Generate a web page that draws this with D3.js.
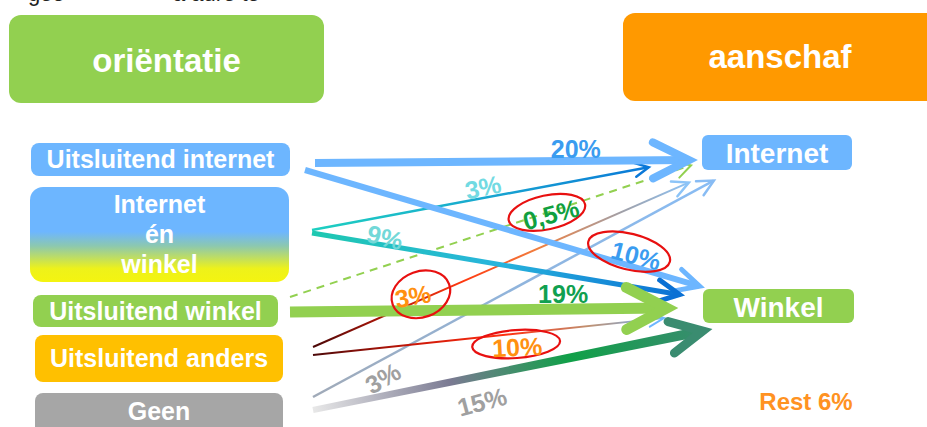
<!DOCTYPE html>
<html><head><meta charset="utf-8">
<script src="https://cdn.jsdelivr.net/npm/d3@7"></script>
<style>
html,body{margin:0;padding:0;background:#fff;}
svg{display:block;font-family:"Liberation Sans",Arial,sans-serif;}
</style>
</head><body>
<svg id="chart" width="927" height="427"></svg>
<script>
// ---------------- DATA ----------------
const headers = ["oriëntatie", "aanschaf"];
const sources = ["Uitsluitend internet", "Internet én winkel", "Uitsluitend winkel", "Uitsluitend anders", "Geen"];
const sourceLines = [["Uitsluitend internet"], ["Internet", "én", "winkel"], ["Uitsluitend winkel"], ["Uitsluitend anders"], ["Geen"]];
const targets = ["Internet", "Winkel"];
const flowFrom = ["Uitsluitend internet", "Uitsluitend internet", "Internet én winkel", "Internet én winkel", "Uitsluitend winkel",
                  "Uitsluitend winkel", "Uitsluitend anders", "Uitsluitend anders", "Geen", "Geen"];
const flowTo   = ["Internet", "Winkel", "Internet", "Winkel", "Internet", "Winkel", "Internet", "Winkel", "Internet", "Winkel"];
const flowValues = [20, 10, 3, 9, 0.5, 19, 3, 10, 3, 15];
const circled    = [false, true, false, false, true, false, true, true, false, false];
const restLabel = "Rest";
const restValue = 6;
const topTextParts = ["geo", "a aure  te"];

// ---------------- LAYOUT / STYLE ----------------
const svg = d3.select("#chart");
const defs = svg.append("defs");

const srcLeft   = d3.scaleOrdinal(sources, [31, 30, 33, 35, 35]);
const srcRight  = d3.scaleOrdinal(sources, [290, 289, 278, 283, 283]);
const srcTop    = d3.scaleOrdinal(sources, [143, 187, 295, 335, 393]);
const srcBottom = d3.scaleOrdinal(sources, [176, 282, 327, 382, 440]);
const srcBase   = d3.scaleOrdinal(sources, [168, 213, 320, 367, 420]);
const srcFill   = d3.scaleOrdinal(sources, ["#6db6ff", "url(#gIeW)", "#92d050", "#ffc000", "#a6a6a6"]);
const srcMid = s => (srcTop(s) + srcBottom(s)) / 2;

const tgtLeft   = d3.scaleOrdinal(targets, [702, 703]);
const tgtRight  = d3.scaleOrdinal(targets, [852, 854]);
const tgtTop    = d3.scaleOrdinal(targets, [135, 289]);
const tgtBottom = d3.scaleOrdinal(targets, [170, 323]);
const tgtBase   = d3.scaleOrdinal(targets, [163, 317]);
const tgtFill   = d3.scaleOrdinal(targets, ["#6db6ff", "#92d050"]);
const tgtMid = t => (tgtTop(t) + tgtBottom(t)) / 2;

// flow anchor offsets (start relative to source box right/mid, end relative to target box left/mid)
const flowLayout = [
  {sdx: 25, sdy: 3.5,   edx: -9,  edy: 7.5,  t: 0.69,  ldy: -12,  rot: 0,   order: 7},
  {sdx: 15, sdy: 10.5,  edx: -1,  edy: -19,  t: 0.834, ldy: -12,  rot: 15,  order: 5, ell: {dx: -7, dy: -4, rx: 42, ry: 18, rot: 14}},
  {sdx: 23, sdy: -4.5,  edx: -52, edy: 14.5, t: 0.506, ldy: -11,  rot: -12, order: 4},
  {sdx: 23, sdy: -1.5,  edx: -21, edy: -11,  t: 0.197, ldy: -8,   rot: 14,  order: 6},
  {sdx: 12, sdy: -14,   edx: -10, edy: 12.5, t: 0.649, ldy: 3,    rot: -15, order: 0, ell: {dx: -4, dy: -2, rx: 39, ry: 17, rot: -12}},
  {sdx: 12, sdy: 1,     edx: -31, edy: 2,    t: 0.715, ldy: -15,  rot: 0,   order: 8},
  {sdx: 30, sdy: -11.5, edx: -12, edy: 29.5, t: 0.265, ldy: -7,   rot: -10, order: 2, ell: {dx: 8, dy: -2, rx: 30, ry: 23, rot: -20}},
  {sdx: 30, sdy: -3.5,  edx: -38, edy: 12,   t: 0.58,  ldy: 13.5, rot: -3,  order: 3, ell: {dx: -1, dy: -3, rx: 44, ry: 14, rot: -4}},
  {sdx: 30, sdy: -19.5, edx: 13,  edy: 27.5, t: 0.174, ldy: 19,   rot: -30, order: 1},
  {sdx: 30, sdy: -6.5,  edx: 4,   edy: 24,   t: 0.429, ldy: 26,   rot: -15, order: 9}
];

const flowStyle = [
  {w0: 8, w1: 8, stops: [["0", "#6db6ff"], ["1", "#6db6ff"]], head: {L: 36, H: 18, w: 8, c: "#6db6ff"}, label: "#3a9cf0"},
  {w0: 6, w1: 6, stops: [["0", "#6db6ff"], ["1", "#6db6ff"]], head: {L: 22, H: 11, w: 5, c: "#6db6ff"}, label: "#3a9cf0"},
  {w0: 2.5, w1: 2.5, stops: [["0", "#1ed0c0"], ["0.5", "#18a8d0"], ["1", "#0a78d8"]], head: {L: 14, H: 7, w: 2.5, c: "#0a78d8"}, label: "#72dae2"},
  {w0: 5, w1: 5, stops: [["0", "#1ec8b0"], ["0.5", "#28b4dc"], ["1", "#0a70d4"]], head: {L: 22, H: 11, w: 5, c: "#0a70d4"}, label: "#72d8d8"},
  {w0: 2, w1: 2, dash: "8,6", stops: [["0", "#92d050"], ["1", "#92d050"]], head: {L: 15, H: 8, w: 2, c: "#92d050"}, label: "#10a040"},
  {w0: 11, w1: 11, stops: [["0", "#92d050"], ["1", "#92d050"]], head: {L: 40, H: 21, w: 11, c: "#92d050"}, label: "#10a050"},
  {w0: 2, w1: 2, stops: [["0", "#4a0808"], ["0.22", "#c01808"], ["0.4", "#ff3a10"], ["0.6", "#f08040"], ["0.82", "#a0a0a8"], ["1", "#8cc4f8"]], head: {L: 16, H: 8, w: 2.5, c: "#8cc4f8"}, label: "#ff9010"},
  {w0: 2, w1: 2, stops: [["0", "#4a0808"], ["0.3", "#d01808"], ["0.55", "#ff3010"], ["0.78", "#c09070"], ["1", "#6db6ff"]], head: {L: 15, H: 7, w: 2, c: "#6db6ff"}, label: "#ff9010"},
  {w0: 2.5, w1: 2.5, stops: [["0", "#a0aab8"], ["0.5", "#90b4dc"], ["1", "#88bcf4"]], head: {L: 16, H: 8, w: 2.5, c: "#88bcf4"}, label: "#a0a0a0"},
  {w0: 6, w1: 10, stops: [["0", "#e8e8e8"], ["0.35", "#7a7a92"], ["0.65", "#10a048"], ["1", "#3a8c70"]], head: {L: 32, H: 16, w: 9, c: "#3a8c70"}, label: "#a0a0a0"}
];

const fmtPct = v => String(v).replace(".", ",") + "%";

// ---------------- TOP (cropped) TEXT ----------------
svg.append("text").attr("x", 28).attr("y", 1).attr("font-size", 22).attr("fill", "#222").text(topTextParts[0]);
svg.append("text").attr("x", 173).attr("y", 1).attr("font-size", 22).attr("fill", "#222").text(topTextParts[1]);

// ---------------- HEADERS ----------------
const headerBoxes = [{x0: 9, x1: 324, y0: 15, y1: 103, fill: "#92d050", base: 72},
                     {x0: 623, x1: 940, y0: 13, y1: 101, fill: "#ff9900", base: 68, tx: 780}];
headers.forEach((h, i) => {
  const b = headerBoxes[i];
  svg.append("rect").attr("x", b.x0).attr("y", b.y0).attr("width", b.x1 - b.x0).attr("height", b.y1 - b.y0)
    .attr("rx", 12).attr("fill", b.fill);
  svg.append("text").attr("x", b.tx || (b.x0 + b.x1) / 2).attr("y", b.base).attr("text-anchor", "middle")
    .attr("font-size", 33).attr("font-weight", "bold").attr("fill", "#fff").text(h);
});

// ---------------- NODE BOXES ----------------
const gIeW = defs.append("linearGradient").attr("id", "gIeW").attr("x1", 0).attr("y1", 0).attr("x2", 0).attr("y2", 1);
[["0", "#6db6ff"], ["0.47", "#6db6ff"], ["0.62", "#8cc8b0"], ["0.86", "#eef21a"], ["1", "#f4f410"]]
  .forEach(s => gIeW.append("stop").attr("offset", s[0]).attr("stop-color", s[1]));

sources.forEach((s, i) => {
  svg.append("rect").attr("x", srcLeft(s)).attr("y", srcTop(s))
    .attr("width", srcRight(s) - srcLeft(s)).attr("height", srcBottom(s) - srcTop(s))
    .attr("rx", i === 1 ? 13 : 8).attr("fill", srcFill(s));
  sourceLines[i].forEach((line, k) => {
    svg.append("text").attr("x", (srcLeft(s) + srcRight(s)) / 2).attr("y", srcBase(s) + k * 30)
      .attr("text-anchor", "middle").attr("font-size", 25).attr("font-weight", "bold").attr("fill", "#fff").text(line);
  });
});

targets.forEach(t => {
  svg.append("rect").attr("x", tgtLeft(t)).attr("y", tgtTop(t))
    .attr("width", tgtRight(t) - tgtLeft(t)).attr("height", tgtBottom(t) - tgtTop(t))
    .attr("rx", 6).attr("fill", tgtFill(t));
  svg.append("text").attr("x", (tgtLeft(t) + tgtRight(t)) / 2).attr("y", tgtBase(t))
    .attr("text-anchor", "middle").attr("font-size", 28).attr("font-weight", "bold").attr("fill", "#fff").text(t);
});

svg.append("text").attr("x", 806).attr("y", 410).attr("text-anchor", "middle")
  .attr("font-size", 24).attr("font-weight", "bold").attr("fill", "#ff9222").text(restLabel + " " + restValue + "%");

// ---------------- FLOWS ----------------
const flows = flowValues.map((v, i) => {
  const L = flowLayout[i];
  const s = [srcRight(flowFrom[i]) + L.sdx, srcMid(flowFrom[i]) + L.sdy];
  const e = [tgtLeft(flowTo[i]) + L.edx, tgtMid(flowTo[i]) + L.edy];
  return {i, v, s, e, L, st: flowStyle[i], circ: circled[i]};
});

const lineGen = d3.line();
const gFlows = svg.append("g");

flows.slice().sort((a, b) => a.L.order - b.L.order).forEach(f => {
  const {s, e, st} = f;
  const dx = e[0] - s[0], dy = e[1] - s[1], len = Math.hypot(dx, dy);
  const ux = dx / len, uy = dy / len, nx = -uy, ny = ux;
  const gid = "gf" + f.i;
  const g = defs.append("linearGradient").attr("id", gid).attr("gradientUnits", "userSpaceOnUse")
    .attr("x1", s[0]).attr("y1", s[1]).attr("x2", e[0]).attr("y2", e[1]);
  st.stops.forEach(p => g.append("stop").attr("offset", p[0]).attr("stop-color", p[1]));
  const back = st.head.w * 0.6;
  const e2 = [e[0] - ux * back, e[1] - uy * back];
  if (st.w0 !== st.w1) {
    const h0 = st.w0 / 2, h1 = st.w1 / 2;
    const poly = [[s[0] + nx * h0, s[1] + ny * h0], [e2[0] + nx * h1, e2[1] + ny * h1],
                  [e2[0] - nx * h1, e2[1] - ny * h1], [s[0] - nx * h0, s[1] - ny * h0]];
    gFlows.append("path").attr("d", lineGen(poly) + "Z").attr("fill", "url(#" + gid + ")");
  } else {
    gFlows.append("path").attr("d", lineGen([s, e2])).attr("fill", "none")
      .attr("stroke", "url(#" + gid + ")").attr("stroke-width", st.w0)
      .attr("stroke-dasharray", st.dash || null);
  }
  const hd = st.head;
  const tip = [e[0] - ux * hd.w * 0.5, e[1] - uy * hd.w * 0.5];
  const headPts = [[tip[0] - ux * hd.L + nx * hd.H, tip[1] - uy * hd.L + ny * hd.H], tip,
                   [tip[0] - ux * hd.L - nx * hd.H, tip[1] - uy * hd.L - ny * hd.H]];
  gFlows.append("path").attr("d", lineGen(headPts)).attr("fill", "none").attr("stroke", hd.c)
    .attr("stroke-width", hd.w).attr("stroke-linecap", "round").attr("stroke-linejoin", "miter");
});

// labels + circles
flows.forEach(f => {
  const {s, e, L, st} = f;
  const lx = s[0] + L.t * (e[0] - s[0]);
  const ly = s[1] + L.t * (e[1] - s[1]) + L.ldy;
  if (f.circ && L.ell) {
    svg.append("ellipse").attr("cx", 0).attr("cy", 0).attr("rx", L.ell.rx).attr("ry", L.ell.ry)
      .attr("transform", `translate(${lx + L.ell.dx},${ly + L.ell.dy}) rotate(${L.ell.rot})`)
      .attr("fill", "none").attr("stroke", "#e81010").attr("stroke-width", 2.2);
  }
  svg.append("text").attr("transform", `translate(${lx},${ly}) rotate(${L.rot})`)
    .attr("text-anchor", "middle").attr("dy", "0.36em").attr("font-size", 25).attr("font-weight", "bold")
    .attr("fill", st.label).text(fmtPct(f.v));
});
</script>
</body></html>
